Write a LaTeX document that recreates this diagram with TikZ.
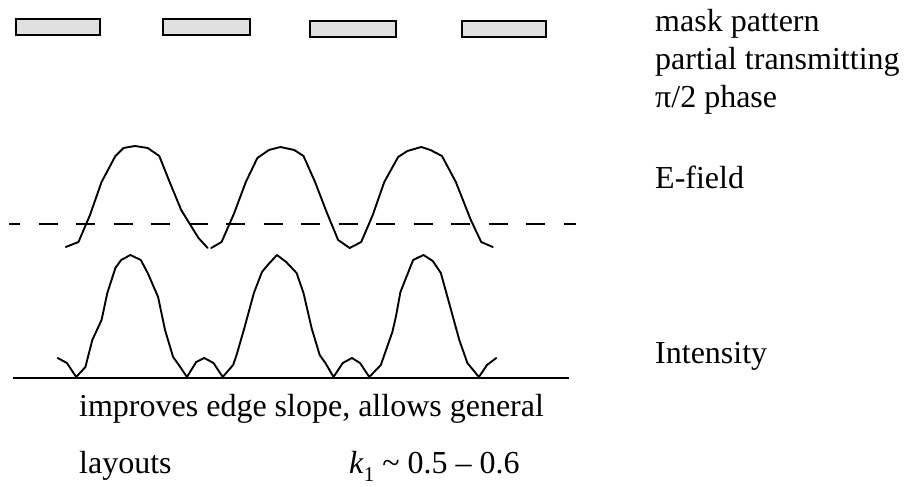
\documentclass[tikz,border=0pt]{standalone}
\usepackage{fontspec}
\setmainfont{Liberation Serif}
\begin{document}
\begin{tikzpicture}[x=1pt,y=-1pt,
  maskbox/.style={draw=black,line width=1.8pt,fill=black!12},
  curve/.style={line width=1.9pt,line join=round,line cap=round},
  lbl/.style={anchor=base west,inner sep=0pt,font=\fontsize{32}{38}\selectfont},
  note/.style={anchor=base west,inner sep=0pt,font=\fontsize{32}{38}\selectfont}]
\useasboundingbox (0,0) rectangle (916,487);
% mask pattern
\draw[maskbox] (16,19) rectangle (100,35);
\draw[maskbox] (163,19) rectangle (250,35);
\draw[maskbox] (310,21) rectangle (396,37);
\draw[maskbox] (462,21) rectangle (546,37);
% dashed reference line
\coordinate (dl) at (9,224);
\coordinate (dr) at (576,224);
\draw[line width=1.8pt,dash pattern=on 19pt off 18.5pt,dash phase=8pt] (dl) -- (dr);
\begin{scope}[xscale=1.154]
% E-field
\draw[curve] (57,247) -- (68,242) -- (78,215) -- (88,182) -- (100,156) -- (107,148) -- (117,146) -- (128,148) -- (138,156) -- (147,182) -- (157,210) -- (172,238) -- (180,248);
\draw[curve] (183,248) -- (192,242) -- (203,213) -- (213,182) -- (223,158) -- (233,150) -- (243,147) -- (255,150) -- (263,156) -- (273,182) -- (283,212) -- (293,240) -- (303,248) -- (313,242) -- (323,215) -- (333,182) -- (345,157) -- (353,151) -- (365,147) -- (373,150) -- (383,156) -- (395,182) -- (408,220) -- (417,242) -- (427,247);
% Intensity
\draw[curve] (50,358) -- (58,363) -- (66,377) -- (74,367) -- (80,340) -- (88,320) -- (93,293) -- (100,268) -- (105,260) -- (113,255) -- (122,260) -- (128,273) -- (137,297) -- (143,330) -- (150,357) -- (155,365) -- (162,377) -- (170,362) -- (177,358) -- (185,363) -- (193,377) -- (202,365) -- (205,355) -- (212,327) -- (220,293) -- (227,272) -- (232,265) -- (240,255) -- (248,262) -- (257,273) -- (263,293) -- (270,328) -- (277,355) -- (282,363) -- (289,377) -- (297,363) -- (305,358) -- (312,363) -- (320,377) -- (330,365) -- (340,332) -- (343,317) -- (347,292) -- (358,260) -- (367,255) -- (375,261) -- (382,273) -- (388,298) -- (398,340) -- (405,363) -- (415,377) -- (422,365) -- (430,358);
\end{scope}
% baseline
\coordinate (bl) at (13,378);
\coordinate (br) at (569,378);
\draw[line width=1.8pt] (bl) -- (br);
% labels
\node[lbl] (t1) at (655,32) {mask pattern};
\node[lbl] (t2) at (655,70) {partial transmitting};
\node[lbl] (t3) at (655,107) {π/2 phase};
\node[lbl] (t4) at (655,188) {E-field};
\node[lbl] (t5) at (655,363) {Intensity};
\node[note] (n1) at (79,416) {improves edge slope, allows general};
\node[note] (n2) at (79,473) {layouts};
\node[note] (n3) at (349,473) {\textit{k}\raisebox{-0.28em}{\fontsize{21}{24}\selectfont 1} \textasciitilde{} 0.5 -- 0.6};
\end{tikzpicture}
\end{document}
